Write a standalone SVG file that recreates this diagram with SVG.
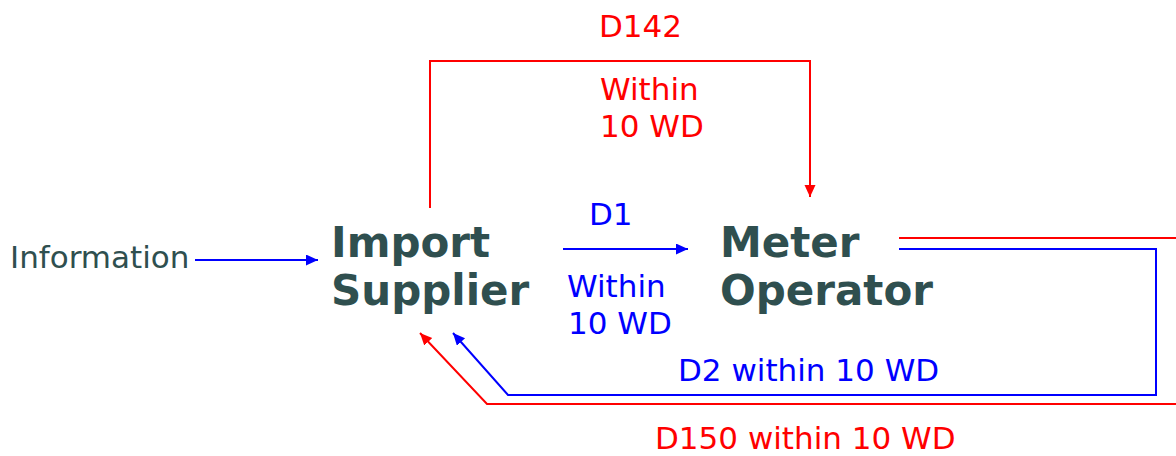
<svg xmlns="http://www.w3.org/2000/svg" width="1176" height="456" viewBox="0 0 1176 456">
<style>
.t{font-family:"DejaVu Sans",Verdana,sans-serif;font-size:31px}
.node{font-family:"DejaVu Sans",Verdana,sans-serif;font-size:42px;font-weight:bold;fill:#2F4F4F}
.red{fill:#FF0000}
.blue{fill:#0000FF}
.lr{fill:none;stroke:#FF0000;stroke-width:2}
.lb{fill:none;stroke:#0000FF;stroke-width:2}
</style>
<defs>
<marker id="ar" markerUnits="userSpaceOnUse" markerWidth="14" markerHeight="12" refX="12" refY="5.5" orient="auto"><path d="M0,0 L12,5.5 L0,11 Z" fill="#FF0000"/></marker>
<marker id="ab" markerUnits="userSpaceOnUse" markerWidth="14" markerHeight="12" refX="12" refY="5.5" orient="auto"><path d="M0,0 L12,5.5 L0,11 Z" fill="#0000FF"/></marker>
</defs>
<rect width="1176" height="456" fill="#FFFFFF"/>
<g id="connectors">
<path class="lb" d="M195,260 H318" marker-end="url(#ab)"/>
<path class="lr" d="M430,208 V61 H810 V197" marker-end="url(#ar)"/>
<path class="lb" d="M563,249 H688" marker-end="url(#ab)"/>
<path class="lr" d="M899,238 H1190 V404 H487 L420,333" marker-end="url(#ar)"/>
<path class="lb" d="M899,249 H1156 V395 H508 L453,333" marker-end="url(#ab)"/>
</g>
<g id="information"><text class="t" x="10" y="268" fill="#2F4F4F">Information</text></g>
<g id="import-supplier"><text class="node" x="331" y="257">Import</text><text class="node" x="331" y="305">Supplier</text></g>
<g id="meter-operator"><text class="node" x="720" y="257">Meter</text><text class="node" x="720" y="305">Operator</text></g>
<g id="labels">
<text class="t red" x="599" y="37">D142</text>
<text class="t red" x="600" y="100">Within</text>
<text class="t red" x="600" y="137">10 WD</text>
<text class="t blue" x="589" y="225">D1</text>
<text class="t blue" x="567" y="297">Within</text>
<text class="t blue" x="568" y="334">10 WD</text>
<text class="t blue" x="678" y="381">D2 within 10 WD</text>
<text class="t red" x="655" y="449">D150 within 10 WD</text>
</g>
</svg>
